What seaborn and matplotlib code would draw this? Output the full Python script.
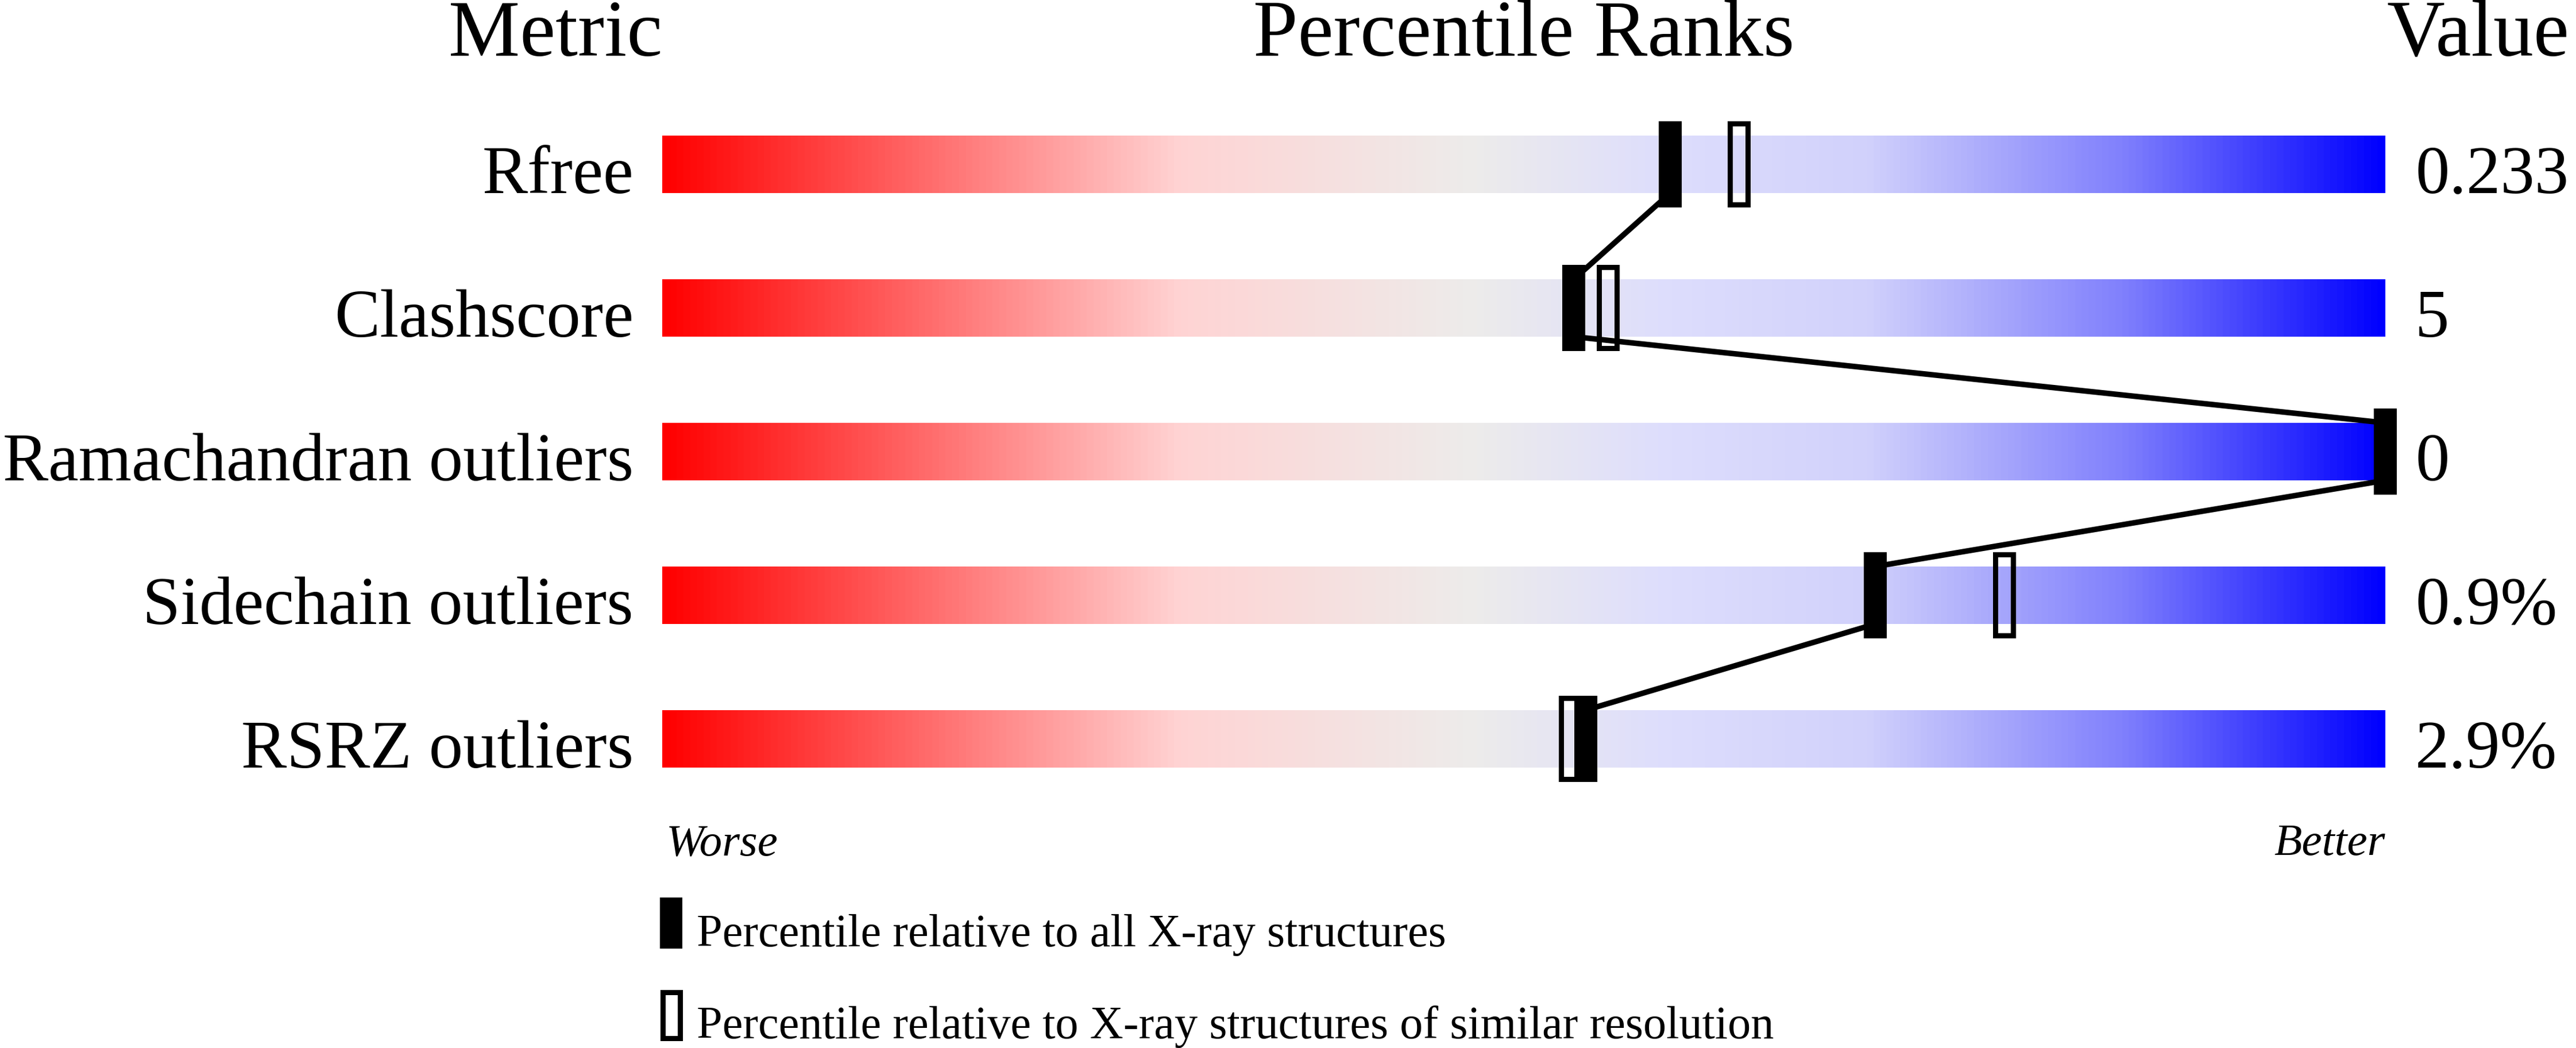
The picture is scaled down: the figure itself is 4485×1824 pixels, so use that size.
import numpy as np
import matplotlib
matplotlib.use("Agg")
import matplotlib.pyplot as plt
import seaborn as sns
from matplotlib.path import Path
from matplotlib.patches import Rectangle
from matplotlib.colors import LinearSegmentedColormap

# Data
metrics = ["Rfree", "Clashscore", "Ramachandran outliers", "Sidechain outliers", "RSRZ outliers"]
values = ["0.233", "5", "0", "0.9%", "2.9%"]
pct_all = [58.5, 52.9, 100.0, 70.4, 53.6]
pct_similar = [62.5, 54.9, 100.0, 77.9, 52.7]
legend_labels = ["Percentile relative to all X-ray structures",
                 "Percentile relative to X-ray structures of similar resolution"]

# Canvas (pixels)
W, H = 4485, 1824
DPI = 300
BAR_L, BAR_R = 1153, 4153
ROW0, ROW_STEP = 286, 250

sns.set_style("white")
plt.rcParams['font.family'] = ['Liberation Serif', 'DejaVu Serif']
plt.rcParams['text.color'] = 'black'

fig = plt.figure(figsize=(W / DPI, H / DPI), dpi=DPI)
top_px = ROW0 - ROW_STEP / 2
bot_px = ROW0 + ROW_STEP * 4.5
ax = fig.add_axes([BAR_L / W, 1 - bot_px / H, (BAR_R - BAR_L) / W, (bot_px - top_px) / H])

def fx(px):
    return px / W

def fy(py):
    return 1 - py / H

px_per_pct = (BAR_R - BAR_L) / 100.0

# Gradient bars
cmap = LinearSegmentedColormap.from_list("slider", [
    (0.00, (1.00, 0.00, 0.00)),
    (0.30, (1.00, 0.83, 0.83)),
    (0.47, (0.93, 0.925, 0.92)),
    (0.58, (0.87, 0.87, 0.99)),
    (0.70, (0.82, 0.82, 0.985)),
    (0.85, (0.50, 0.50, 0.99)),
    (1.00, (0.00, 0.00, 1.00)),
])
grad = np.linspace(0, 1, 800).reshape(1, -1)
for i in range(len(metrics)):
    ax.imshow(grad, cmap=cmap, extent=(0, 100, i + 0.2, i - 0.2),
              aspect='auto', interpolation='bilinear', zorder=1)

# Connecting lines between "all structures" markers
for i in range(len(metrics) - 1):
    ax.plot([pct_all[i], pct_all[i + 1]], [i + 0.2, i + 0.8],
            color='black', lw=2.3, solid_capstyle='butt', zorder=3, clip_on=False)

# Marker shapes (40 x 150 px, border 9 px)
def box(w, h, reverse=False):
    v = [(-w / 2, -h / 2), (w / 2, -h / 2), (w / 2, h / 2), (-w / 2, h / 2)]
    if reverse:
        v = v[::-1]
    return Path(v + [v[0]], closed=True)

solid_marker = box(40, 150)
open_marker = Path.make_compound_path(box(40, 150), box(22, 132, reverse=True))
marker_s = (150 * 72 / DPI) ** 2
rows = list(range(len(metrics)))

sns.scatterplot(x=pct_similar, y=rows, marker=open_marker, s=marker_s,
                color='black', edgecolor='none', linewidth=0, legend=False,
                ax=ax, zorder=4, clip_on=False)
sns.scatterplot(x=pct_all, y=rows, marker=solid_marker, s=marker_s,
                color='black', edgecolor='none', linewidth=0, legend=False,
                ax=ax, zorder=5, clip_on=False)

# Row labels and values
for i, (name, val) in enumerate(zip(metrics, values)):
    ax.text(-50 / px_per_pct, i + 0.2, name, ha='right', va='baseline', fontsize=28.5)
    ax.text(100 + 52 / px_per_pct, i + 0.2, val, ha='left', va='baseline', fontsize=28.5)

ax.set_xlim(0, 100)
ax.set_ylim(4.5, -0.5)
ax.axis('off')

# Headers
fig.text(fx(BAR_L), fy(97), "Metric", ha='right', va='baseline', fontsize=33.5)
fig.text(fx((BAR_L + BAR_R) / 2), fy(97), "Percentile Ranks", ha='center', va='baseline', fontsize=33.5)
fig.text(fx(BAR_R + 2), fy(97), "Value", ha='left', va='baseline', fontsize=33.5)

# Worse / Better
fig.text(fx(1160), fy(1488), "Worse", ha='left', va='baseline', fontsize=19, style='italic')
fig.text(fx(BAR_R), fy(1488), "Better", ha='right', va='baseline', fontsize=19, style='italic')

# Legend
fig.add_artist(Rectangle((fx(1149), fy(1651)), 39 / W, 89 / H, transform=fig.transFigure,
                         facecolor='black', edgecolor='none'))
fig.add_artist(Rectangle((fx(1149 + 4.5), fy(1811 - 4.5)), 30 / W, 80 / H, transform=fig.transFigure,
                         facecolor='white', edgecolor='black', linewidth=9 * 72 / DPI))
fig.text(fx(1213), fy(1647), legend_labels[0], ha='left', va='baseline', fontsize=19.3)
fig.text(fx(1213), fy(1807), legend_labels[1], ha='left', va='baseline', fontsize=19.3)

fig.savefig("out.png", dpi=DPI)
